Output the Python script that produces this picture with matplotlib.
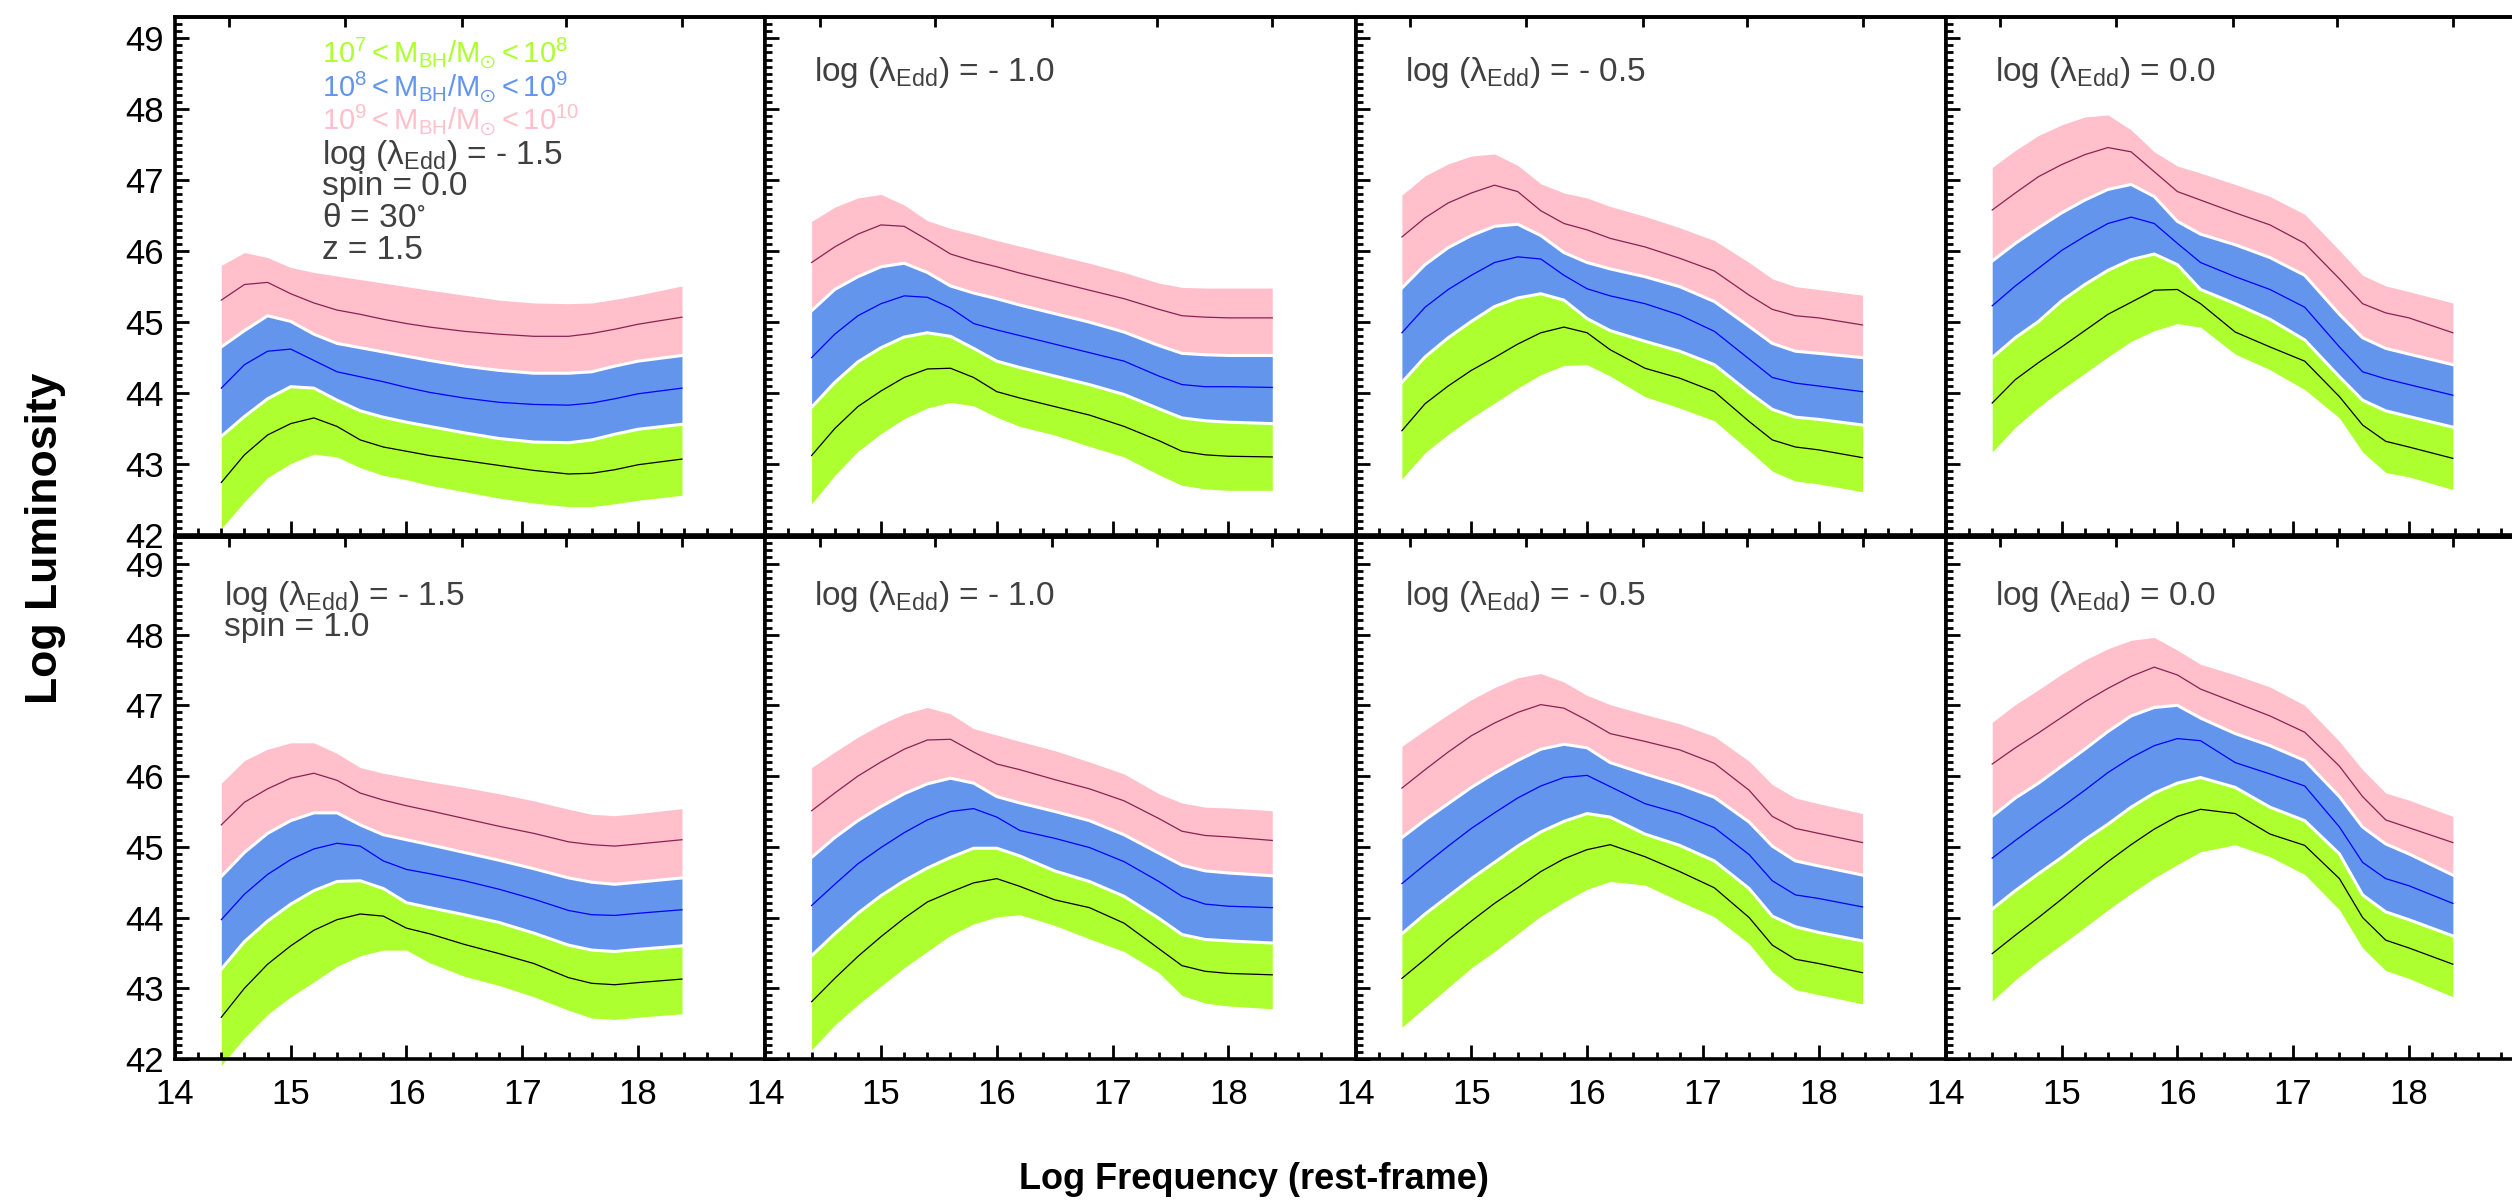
import numpy as np
import matplotlib.pyplot as plt
from matplotlib.ticker import MultipleLocator, FixedLocator, NullLocator

plt.rcParams['font.family'] = ['Liberation Sans', 'DejaVu Sans']
plt.rcParams['mathtext.fontset'] = 'custom'
plt.rcParams['mathtext.rm'] = 'Liberation Sans'
plt.rcParams['mathtext.it'] = 'Liberation Sans'

# log frequency grid the curves were read at
freq = [14.4, 14.6, 14.8, 15.0, 15.2, 15.4, 15.6, 15.8, 16.0, 16.2,
        16.5, 16.8, 17.1, 17.4, 17.6, 17.8, 18.0, 18.38]

# ---- spin 0, log(lambda_Edd) = -1.5 ----
s0_m15_pink_hi = [45.80, 45.98, 45.91, 45.77, 45.70, 45.65, 45.60, 45.55, 45.50, 45.45, 45.38, 45.31, 45.27, 45.26, 45.27, 45.32, 45.38, 45.51]
s0_m15_pink_mid = [45.31, 45.53, 45.56, 45.40, 45.27, 45.17, 45.11, 45.04, 44.98, 44.93, 44.87, 44.83, 44.80, 44.80, 44.84, 44.90, 44.97, 45.07]
s0_m15_blue_hi = [44.65, 44.88, 45.09, 45.01, 44.83, 44.70, 44.64, 44.58, 44.52, 44.46, 44.38, 44.32, 44.28, 44.28, 44.30, 44.38, 44.45, 44.53]
s0_m15_blue_mid = [44.07, 44.40, 44.59, 44.62, 44.46, 44.30, 44.23, 44.16, 44.08, 44.01, 43.93, 43.87, 43.84, 43.83, 43.86, 43.92, 43.99, 44.07]
s0_m15_green_hi = [43.39, 43.67, 43.92, 44.09, 44.07, 43.90, 43.75, 43.66, 43.59, 43.53, 43.44, 43.36, 43.31, 43.30, 43.34, 43.42, 43.49, 43.56]
s0_m15_green_mid = [42.74, 43.13, 43.41, 43.57, 43.65, 43.53, 43.34, 43.24, 43.18, 43.12, 43.05, 42.98, 42.91, 42.86, 42.87, 42.92, 42.99, 43.07]
s0_m15_green_lo = [42.09, 42.47, 42.81, 43.01, 43.14, 43.10, 42.95, 42.84, 42.78, 42.70, 42.61, 42.52, 42.45, 42.40, 42.40, 42.44, 42.49, 42.56]

# ---- spin 0, log(lambda_Edd) = -1.0 ----
s0_m10_pink_hi = [46.42, 46.62, 46.75, 46.80, 46.65, 46.43, 46.32, 46.24, 46.15, 46.07, 45.95, 45.83, 45.70, 45.55, 45.49, 45.48, 45.48, 45.48]
s0_m10_pink_mid = [45.84, 46.06, 46.24, 46.37, 46.35, 46.16, 45.96, 45.86, 45.78, 45.69, 45.57, 45.45, 45.33, 45.18, 45.09, 45.07, 45.06, 45.06]
s0_m10_blue_hi = [45.16, 45.46, 45.64, 45.78, 45.83, 45.70, 45.51, 45.41, 45.33, 45.24, 45.12, 45.00, 44.86, 44.67, 44.56, 44.54, 44.53, 44.53]
s0_m10_blue_mid = [44.50, 44.83, 45.09, 45.26, 45.37, 45.35, 45.20, 44.98, 44.89, 44.81, 44.69, 44.57, 44.45, 44.24, 44.12, 44.09, 44.09, 44.08]
s0_m10_green_hi = [43.80, 44.15, 44.44, 44.64, 44.79, 44.85, 44.80, 44.63, 44.45, 44.36, 44.24, 44.12, 43.98, 43.78, 43.65, 43.61, 43.59, 43.57]
s0_m10_green_mid = [43.12, 43.50, 43.81, 44.03, 44.22, 44.34, 44.35, 44.22, 44.02, 43.93, 43.81, 43.69, 43.53, 43.33, 43.18, 43.13, 43.11, 43.10]
s0_m10_green_lo = [42.44, 42.84, 43.18, 43.43, 43.64, 43.79, 43.87, 43.82, 43.66, 43.53, 43.41, 43.25, 43.10, 42.85, 42.70, 42.65, 42.63, 42.63]

# ---- spin 0, log(lambda_Edd) = -0.5 ----
s0_m05_pink_hi = [46.79, 47.06, 47.23, 47.34, 47.37, 47.21, 46.95, 46.82, 46.75, 46.63, 46.49, 46.33, 46.15, 45.84, 45.61, 45.50, 45.46, 45.38]
s0_m05_pink_mid = [46.20, 46.47, 46.68, 46.82, 46.93, 46.84, 46.57, 46.39, 46.30, 46.18, 46.06, 45.90, 45.72, 45.38, 45.18, 45.09, 45.06, 44.96]
s0_m05_blue_hi = [45.48, 45.81, 46.05, 46.22, 46.35, 46.38, 46.22, 45.98, 45.84, 45.75, 45.64, 45.50, 45.29, 44.94, 44.70, 44.59, 44.56, 44.50]
s0_m05_blue_mid = [44.85, 45.21, 45.46, 45.66, 45.84, 45.92, 45.89, 45.66, 45.47, 45.37, 45.26, 45.10, 44.87, 44.48, 44.22, 44.14, 44.10, 44.02]
s0_m05_green_hi = [44.15, 44.51, 44.78, 45.01, 45.22, 45.34, 45.40, 45.31, 45.05, 44.88, 44.73, 44.59, 44.40, 44.01, 43.77, 43.66, 43.63, 43.55]
s0_m05_green_mid = [43.47, 43.85, 44.10, 44.32, 44.50, 44.69, 44.85, 44.93, 44.85, 44.61, 44.35, 44.21, 44.02, 43.60, 43.34, 43.24, 43.20, 43.09]
s0_m05_green_lo = [42.79, 43.16, 43.42, 43.65, 43.86, 44.07, 44.26, 44.39, 44.40, 44.24, 43.95, 43.79, 43.61, 43.19, 42.90, 42.76, 42.72, 42.61]

# ---- spin 0, log(lambda_Edd) = 0.0 ----
s0_p00_pink_hi = [47.18, 47.42, 47.63, 47.78, 47.89, 47.92, 47.71, 47.40, 47.20, 47.10, 46.94, 46.77, 46.52, 46.01, 45.66, 45.51, 45.43, 45.27]
s0_p00_pink_mid = [46.58, 46.82, 47.05, 47.22, 47.36, 47.46, 47.40, 47.12, 46.84, 46.72, 46.54, 46.37, 46.11, 45.61, 45.26, 45.13, 45.06, 44.85]
s0_p00_blue_hi = [45.86, 46.11, 46.33, 46.54, 46.72, 46.87, 46.94, 46.77, 46.42, 46.24, 46.09, 45.91, 45.66, 45.11, 44.78, 44.63, 44.55, 44.40]
s0_p00_blue_mid = [45.23, 45.51, 45.76, 46.01, 46.21, 46.39, 46.48, 46.39, 46.11, 45.84, 45.64, 45.46, 45.21, 44.65, 44.30, 44.20, 44.12, 43.97]
s0_p00_green_hi = [44.50, 44.78, 45.01, 45.30, 45.53, 45.73, 45.88, 45.96, 45.81, 45.46, 45.26, 45.04, 44.75, 44.23, 43.90, 43.75, 43.67, 43.52]
s0_p00_green_mid = [43.86, 44.19, 44.43, 44.65, 44.88, 45.11, 45.28, 45.45, 45.46, 45.26, 44.86, 44.65, 44.45, 43.95, 43.55, 43.32, 43.24, 43.08]
s0_p00_green_lo = [43.17, 43.52, 43.80, 44.05, 44.28, 44.51, 44.73, 44.88, 44.98, 44.93, 44.55, 44.33, 44.05, 43.65, 43.17, 42.88, 42.82, 42.64]

# ---- spin 1, log(lambda_Edd) = -1.5 ----
s1_m15_pink_hi = [45.90, 46.22, 46.38, 46.47, 46.47, 46.32, 46.12, 46.04, 45.98, 45.92, 45.84, 45.75, 45.65, 45.53, 45.46, 45.44, 45.47, 45.54]
s1_m15_pink_mid = [45.31, 45.63, 45.82, 45.97, 46.04, 45.94, 45.76, 45.66, 45.58, 45.51, 45.40, 45.29, 45.19, 45.07, 45.03, 45.01, 45.04, 45.10]
s1_m15_blue_hi = [44.58, 44.92, 45.19, 45.37, 45.48, 45.48, 45.31, 45.17, 45.10, 45.03, 44.92, 44.81, 44.69, 44.56, 44.50, 44.47, 44.50, 44.56]
s1_m15_blue_mid = [43.97, 44.33, 44.61, 44.82, 44.97, 45.05, 45.01, 44.80, 44.68, 44.62, 44.52, 44.40, 44.26, 44.10, 44.04, 44.03, 44.06, 44.11]
s1_m15_green_hi = [43.27, 43.66, 43.95, 44.19, 44.38, 44.51, 44.52, 44.41, 44.21, 44.14, 44.04, 43.93, 43.78, 43.61, 43.54, 43.52, 43.55, 43.60]
s1_m15_green_mid = [42.59, 43.00, 43.34, 43.60, 43.82, 43.97, 44.05, 44.02, 43.85, 43.77, 43.62, 43.49, 43.35, 43.15, 43.07, 43.05, 43.08, 43.13]
s1_m15_green_lo = [41.91, 42.30, 42.63, 42.88, 43.09, 43.31, 43.46, 43.54, 43.54, 43.36, 43.17, 43.04, 42.88, 42.69, 42.58, 42.56, 42.59, 42.64]

# ---- spin 1, log(lambda_Edd) = -1.0 ----
s1_m10_pink_hi = [46.12, 46.34, 46.55, 46.73, 46.88, 46.97, 46.88, 46.67, 46.58, 46.49, 46.36, 46.20, 46.03, 45.75, 45.62, 45.56, 45.55, 45.51]
s1_m10_pink_mid = [45.51, 45.76, 46.00, 46.20, 46.38, 46.51, 46.52, 46.34, 46.17, 46.09, 45.95, 45.82, 45.65, 45.40, 45.22, 45.16, 45.14, 45.09]
s1_m10_blue_hi = [44.85, 45.13, 45.37, 45.57, 45.75, 45.89, 45.97, 45.90, 45.71, 45.62, 45.50, 45.37, 45.17, 44.91, 44.74, 44.66, 44.63, 44.59]
s1_m10_blue_mid = [44.17, 44.47, 44.76, 44.99, 45.20, 45.38, 45.50, 45.54, 45.42, 45.23, 45.12, 44.99, 44.79, 44.51, 44.30, 44.19, 44.16, 44.14]
s1_m10_green_hi = [43.46, 43.77, 44.06, 44.31, 44.52, 44.70, 44.85, 44.98, 44.98, 44.87, 44.66, 44.51, 44.30, 43.99, 43.76, 43.69, 43.67, 43.64]
s1_m10_green_mid = [42.81, 43.14, 43.45, 43.73, 43.99, 44.22, 44.36, 44.49, 44.55, 44.44, 44.25, 44.14, 43.92, 43.56, 43.32, 43.24, 43.21, 43.19]
s1_m10_green_lo = [42.13, 42.48, 42.77, 43.03, 43.29, 43.52, 43.75, 43.91, 44.01, 44.04, 43.89, 43.70, 43.52, 43.22, 42.90, 42.79, 42.75, 42.71]

# ---- spin 1, log(lambda_Edd) = -0.5 ----
s1_m05_pink_hi = [46.42, 46.65, 46.87, 47.08, 47.25, 47.39, 47.45, 47.33, 47.14, 47.01, 46.87, 46.74, 46.56, 46.21, 45.88, 45.69, 45.61, 45.47]
s1_m05_pink_mid = [45.83, 46.09, 46.34, 46.57, 46.75, 46.90, 47.01, 46.96, 46.79, 46.60, 46.49, 46.37, 46.18, 45.80, 45.43, 45.26, 45.19, 45.06]
s1_m05_blue_hi = [45.13, 45.38, 45.61, 45.84, 46.04, 46.22, 46.38, 46.45, 46.40, 46.19, 46.03, 45.88, 45.70, 45.35, 45.01, 44.80, 44.73, 44.60]
s1_m05_blue_mid = [44.48, 44.75, 45.01, 45.26, 45.48, 45.69, 45.86, 45.98, 46.01, 45.85, 45.61, 45.47, 45.27, 44.89, 44.52, 44.32, 44.27, 44.15]
s1_m05_green_hi = [43.77, 44.05, 44.30, 44.55, 44.78, 45.01, 45.21, 45.36, 45.47, 45.42, 45.18, 45.02, 44.80, 44.41, 44.02, 43.87, 43.79, 43.67]
s1_m05_green_mid = [43.14, 43.41, 43.69, 43.95, 44.20, 44.42, 44.65, 44.83, 44.96, 45.03, 44.86, 44.65, 44.42, 44.00, 43.61, 43.41, 43.35, 43.22]
s1_m05_green_lo = [42.45, 42.73, 43.01, 43.29, 43.52, 43.77, 44.02, 44.22, 44.40, 44.51, 44.46, 44.23, 44.01, 43.63, 43.23, 42.98, 42.91, 42.78]

# ---- spin 1, log(lambda_Edd) = 0.0 ----
s1_p00_pink_hi = [46.76, 47.01, 47.22, 47.44, 47.64, 47.80, 47.92, 47.96, 47.78, 47.58, 47.43, 47.26, 47.00, 46.49, 46.09, 45.76, 45.66, 45.43]
s1_p00_pink_mid = [46.17, 46.40, 46.61, 46.83, 47.05, 47.24, 47.41, 47.54, 47.43, 47.23, 47.04, 46.85, 46.62, 46.14, 45.71, 45.38, 45.27, 45.06]
s1_p00_blue_hi = [45.43, 45.69, 45.90, 46.14, 46.38, 46.63, 46.85, 46.97, 47.00, 46.82, 46.60, 46.43, 46.22, 45.71, 45.28, 45.04, 44.90, 44.60]
s1_p00_blue_mid = [44.84, 45.09, 45.33, 45.56, 45.80, 46.05, 46.26, 46.43, 46.53, 46.50, 46.19, 46.03, 45.86, 45.28, 44.78, 44.55, 44.45, 44.20]
s1_p00_green_hi = [44.12, 44.38, 44.62, 44.85, 45.10, 45.32, 45.56, 45.76, 45.90, 45.98, 45.84, 45.56, 45.37, 44.90, 44.32, 44.08, 43.97, 43.74]
s1_p00_green_mid = [43.49, 43.75, 44.00, 44.26, 44.53, 44.79, 45.03, 45.25, 45.43, 45.53, 45.47, 45.18, 45.02, 44.55, 44.00, 43.68, 43.57, 43.34]
s1_p00_green_lo = [42.82, 43.12, 43.38, 43.62, 43.86, 44.11, 44.34, 44.56, 44.75, 44.93, 45.03, 44.86, 44.61, 44.11, 43.57, 43.25, 43.14, 42.88]

edd_labels = ['- 1.5', '- 1.0', '- 0.5', '0.0']
top_ticks = [14.47, 15.47, 16.48, 17.38, 18.38]

panels = [
    [(s0_m15_pink_hi, s0_m15_pink_mid, s0_m15_blue_hi, s0_m15_blue_mid, s0_m15_green_hi, s0_m15_green_mid, s0_m15_green_lo),
     (s0_m10_pink_hi, s0_m10_pink_mid, s0_m10_blue_hi, s0_m10_blue_mid, s0_m10_green_hi, s0_m10_green_mid, s0_m10_green_lo),
     (s0_m05_pink_hi, s0_m05_pink_mid, s0_m05_blue_hi, s0_m05_blue_mid, s0_m05_green_hi, s0_m05_green_mid, s0_m05_green_lo),
     (s0_p00_pink_hi, s0_p00_pink_mid, s0_p00_blue_hi, s0_p00_blue_mid, s0_p00_green_hi, s0_p00_green_mid, s0_p00_green_lo)],
    [(s1_m15_pink_hi, s1_m15_pink_mid, s1_m15_blue_hi, s1_m15_blue_mid, s1_m15_green_hi, s1_m15_green_mid, s1_m15_green_lo),
     (s1_m10_pink_hi, s1_m10_pink_mid, s1_m10_blue_hi, s1_m10_blue_mid, s1_m10_green_hi, s1_m10_green_mid, s1_m10_green_lo),
     (s1_m05_pink_hi, s1_m05_pink_mid, s1_m05_blue_hi, s1_m05_blue_mid, s1_m05_green_hi, s1_m05_green_mid, s1_m05_green_lo),
     (s1_p00_pink_hi, s1_p00_pink_mid, s1_p00_blue_hi, s1_p00_blue_mid, s1_p00_green_hi, s1_p00_green_mid, s1_p00_green_lo)],
]

W, H = 2512, 1202
fig = plt.figure(figsize=(W / 100, H / 100), dpi=100)

left0 = 175
pw = 590.3
row_px = [(17, 535, 49.30), (537, 1059, 49.38)]   # top px, bottom px, ymax
grey = '#404040'
leg_size = 21
txt = 24

for r in range(2):
    top, bot, ymax = row_px[r]
    for c in range(4):
        ax = fig.add_axes([(left0 + c * pw) / W, 1 - bot / H, pw / W, (bot - top) / H])
        p_hi, p_mid, b_hi, b_mid, g_hi, g_mid, g_lo = panels[r][c]

        ax.fill_between(freq, p_hi, b_hi, color='pink', lw=0, clip_on=False)
        ax.fill_between(freq, b_hi, g_hi, color='cornflowerblue', lw=0, clip_on=False)
        ax.fill_between(freq, g_hi, g_lo, color='greenyellow', lw=0, clip_on=False)
        ax.plot(freq, b_hi, color='white', lw=2.2, solid_joinstyle='round')
        ax.plot(freq, g_hi, color='white', lw=2.2, solid_joinstyle='round')
        ax.plot(freq, p_mid, color='#8B2252', lw=0.9, solid_joinstyle='round')
        ax.plot(freq, b_mid, color='blue', lw=0.9, solid_joinstyle='round')
        ax.plot(freq, g_mid, color='black', lw=0.9, solid_joinstyle='round')

        ax.set_xlim(14, 19.1)
        ax.set_ylim(42, ymax)
        ax.xaxis.set_major_locator(FixedLocator([14, 15, 16, 17, 18]))
        ax.xaxis.set_minor_locator(FixedLocator([v / 10 for v in range(142, 190, 2) if v % 10 != 0]))
        ax.yaxis.set_major_locator(MultipleLocator(1))
        ax.yaxis.set_minor_locator(MultipleLocator(0.1))
        ax.tick_params(which='both', direction='in', width=2, top=False, right=False)
        ax.tick_params(which='major', length=10)
        ax.tick_params(which='minor', length=5)
        ax.tick_params(axis='x', labelsize=25, pad=14, labelbottom=(r == 1))
        ax.tick_params(axis='y', labelsize=25, pad=8, labelleft=(c == 0))
        for s in ax.spines.values():
            s.set_linewidth(2.6)

        sec = ax.secondary_xaxis('top')
        sec.set_xticks(top_ticks)
        sec.xaxis.set_minor_locator(NullLocator())
        sec.tick_params(direction='in', length=7, width=2, labeltop=False)
        sec.spines['top'].set_linewidth(2.6)

        if r == 0 and c == 0:
            x0 = 0.249
            ax.text(x0, 0.913, r'$\mathregular{10^7 < M_{BH}/M_{\odot} < 10^8}$', transform=ax.transAxes,
                    color='greenyellow', fontsize=leg_size)
            ax.text(x0, 0.848, r'$\mathregular{10^8 < M_{BH}/M_{\odot} < 10^9}$', transform=ax.transAxes,
                    color='cornflowerblue', fontsize=leg_size)
            ax.text(x0, 0.783, r'$\mathregular{10^9 < M_{BH}/M_{\odot} < 10^{10}}$', transform=ax.transAxes,
                    color='pink', fontsize=leg_size)
            ax.text(x0, 0.717, r'log ($\mathregular{\lambda_{Edd}}$) = ' + edd_labels[0], transform=ax.transAxes,
                    color=grey, fontsize=txt)
            ax.text(x0, 0.656, 'spin = 0.0', transform=ax.transAxes, color=grey, fontsize=txt)
            ax.text(x0, 0.595, r'$\mathregular{\theta}$ = 30$\mathregular{^{\circ}}$', transform=ax.transAxes,
                    color=grey, fontsize=txt)
            ax.text(x0, 0.533, 'z = 1.5', transform=ax.transAxes, color=grey, fontsize=txt)
        else:
            yb = 0.876 if r == 0 else 0.870
            ax.text(0.083, yb, r'log ($\mathregular{\lambda_{Edd}}$) = ' + edd_labels[c], transform=ax.transAxes,
                    color=grey, fontsize=txt)
            if r == 1 and c == 0:
                ax.text(0.083, 0.811, 'spin = 1.0', transform=ax.transAxes, color=grey, fontsize=txt)

fig.text(0.018, 0.5524, 'Log Luminosity', rotation=90, fontsize=32, fontweight='bold',
         ha='center', va='center')
fig.text(0.4993, 0.019, 'Log Frequency (rest-frame)', fontsize=26, fontweight='bold',
         ha='center', va='center')

fig.savefig('out.png', dpi=100)
